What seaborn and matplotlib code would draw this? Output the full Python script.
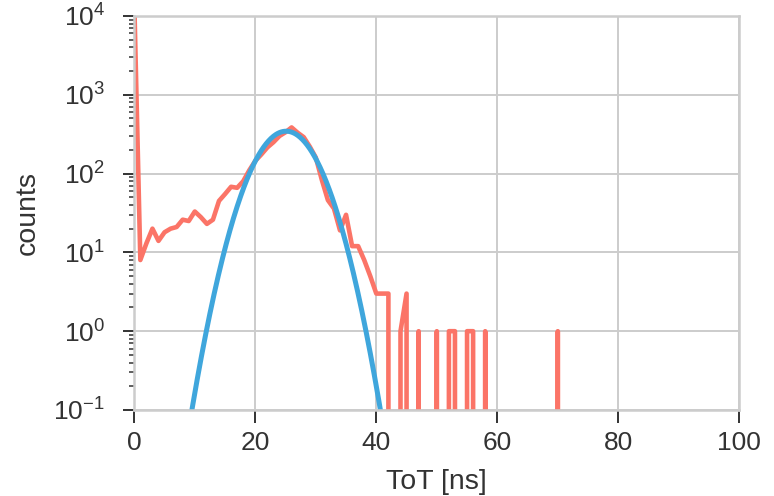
import numpy as np
import pandas as pd
import matplotlib
matplotlib.use("Agg")
import matplotlib.pyplot as plt
import seaborn as sns

# Time-over-threshold histogram (bin centre in ns, counts per bin)
tot_ns = list(range(0, 72))
counts = [15000, 8, 13, 20, 14, 18, 20, 21, 26, 25,
          33, 28, 23, 26, 45, 55, 68, 66, 80, 110,
          145, 175, 215, 250, 300, 335, 385, 330, 290, 220,
          160, 83, 46, 36, 19, 30, 12, 12, 8, 5,
          3, 3, 3, 0, 1, 3, 0, 1, 0, 0,
          1, 0, 1, 1, 0, 1, 1, 0, 1, 0,
          0, 0, 0, 0, 0, 0, 0, 0, 0, 0,
          1, 0]

# Gaussian fit to the main peak
fit_amplitude = 345.0
fit_mean = 25.1
fit_sigma = 3.86

hist = pd.DataFrame({"ToT": tot_ns, "counts": counts})
fit_x = np.linspace(0, 100, 1001)
fit = pd.DataFrame({
    "ToT": fit_x,
    "counts": fit_amplitude * np.exp(-(fit_x - fit_mean) ** 2 / (2 * fit_sigma ** 2)),
})

sns.set_style("whitegrid", {
    "axes.edgecolor": "#cccccc",
    "grid.color": "#cccccc",
    "xtick.bottom": True,
    "ytick.left": True,
    "xtick.color": "#333333",
    "ytick.color": "#333333",
    "axes.labelcolor": "#333333",
    "text.color": "#333333",
})
plt.rcParams["font.family"] = ["Liberation Sans", "DejaVu Sans"]
plt.rcParams["mathtext.fontset"] = "custom"
plt.rcParams["mathtext.rm"] = "Liberation Sans"
plt.rcParams["mathtext.it"] = "Liberation Sans:italic"
plt.rcParams["mathtext.bf"] = "Liberation Sans:bold"
plt.rcParams["axes.unicode_minus"] = True

fig = plt.figure(figsize=(7.74, 4.96), dpi=100)
ax = fig.add_axes([0.1735, 0.1734, 0.7817, 0.7944])

sns.lineplot(data=hist, x="ToT", y="counts", ax=ax, color="#fb7467",
             linewidth=3.3, estimator=None, sort=False)
sns.lineplot(data=fit, x="ToT", y="counts", ax=ax, color="#3fa6dc",
             linewidth=3.6, estimator=None, sort=False)

ax.set_yscale("log")
ax.set_xlim(0, 100)
ax.set_ylim(0.1, 1e4)
ax.set_xticks([0, 20, 40, 60, 80, 100])

ax.set_xlabel("ToT [ns]", fontsize=20.5, labelpad=10)
ax.set_ylabel("counts", fontsize=20.5, labelpad=9)

ax.tick_params(axis="both", which="major", labelsize=19, width=1.4,
               color="#333333", direction="out")
ax.tick_params(axis="x", which="major", length=9, pad=6)
ax.tick_params(axis="y", which="major", length=8, pad=13)
ax.tick_params(axis="y", which="minor", length=3.5, width=1.1,
               color="#333333", left=True)
ax.tick_params(axis="x", which="minor", bottom=False)

ax.grid(True, which="major", linewidth=1.4, color="#cccccc")
ax.grid(False, which="minor")
for spine in ax.spines.values():
    spine.set_linewidth(1.8)
    spine.set_color("#cccccc")

fig.savefig("out.png", dpi=100)
